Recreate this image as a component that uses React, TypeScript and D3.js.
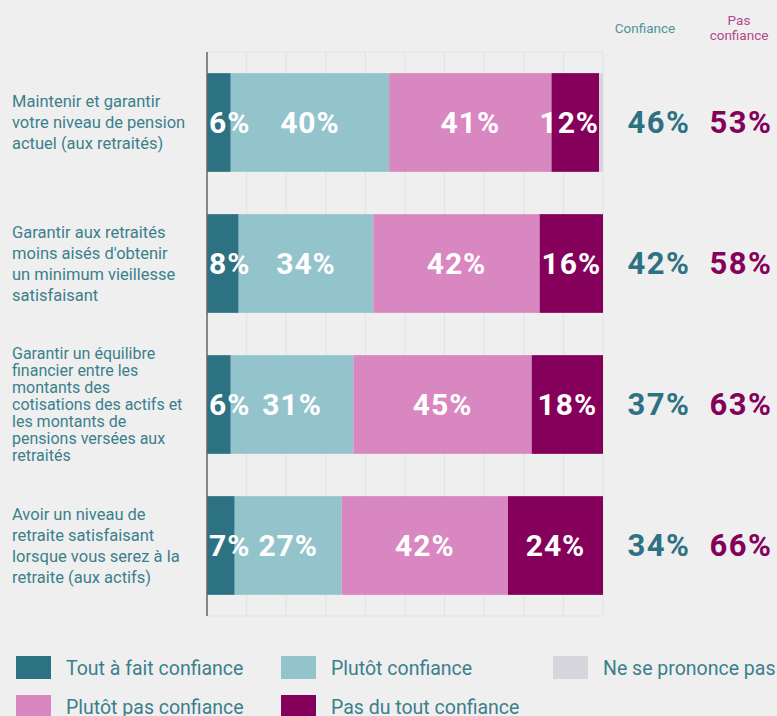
import { useEffect, useRef } from "react";
import * as d3 from "d3";

const categories = [
  ["Maintenir et garantir", "votre niveau de pension", "actuel (aux retraités)"],
  ["Garantir aux retraités", "moins aisés d'obtenir", "un minimum vieillesse", "satisfaisant"],
  [
    "Garantir un équilibre",
    "financier entre les",
    "montants des",
    "cotisations des actifs et",
    "les montants de",
    "pensions versées aux",
    "retraités",
  ],
  ["Avoir un niveau de", "retraite satisfaisant", "lorsque vous serez à la", "retraite (aux actifs)"],
];

const toutAFait = [6, 8, 6, 7];
const plutot = [40, 34, 31, 27];
const plutotPas = [41, 42, 45, 42];
const pasDuTout = [12, 16, 18, 24];
const nspp = [1, 0, 0, 0];

const seriesNames = [
  "Tout à fait confiance",
  "Plutôt confiance",
  "Plutôt pas confiance",
  "Pas du tout confiance",
  "Ne se prononce pas",
];
const seriesColors = ["#2d7282", "#94c4cb", "#d987c0", "#85005a", "#d7d5dc"];
const xTicks = [0, 10, 20, 30, 40, 50, 60, 70, 80, 90, 100];

const W = 777;
const H = 716;
const FONT = "Roboto, 'Noto Sans', sans-serif";

export default function App() {
  const svgRef = useRef<SVGSVGElement>(null);

  useEffect(() => {
    document.body.style.margin = "0";
    if (!svgRef.current) return;
    const svg = d3.select(svgRef.current);
    svg.selectAll("*").remove();

    svg.append("rect").attr("width", W).attr("height", H).attr("fill", "#efefef");

    const x = d3.scaleLinear().domain([0, 100]).range([207, 603]);
    const y = d3
      .scaleBand<number>()
      .domain(categories.map((_, i) => i))
      .range([52, 616])
      .paddingInner(0.3)
      .paddingOuter(0.15);

    const series = [toutAFait, plutot, plutotPas, pasDuTout, nspp];

    // grid
    const grid = svg.append("g");
    grid
      .selectAll("line.v")
      .data(xTicks)
      .enter()
      .append("line")
      .attr("x1", (d) => x(d))
      .attr("x2", (d) => x(d))
      .attr("y1", 52)
      .attr("y2", 616)
      .attr("stroke", "#dce4e4")
      .attr("stroke-width", 1);
    [52, 616].forEach((yy) =>
      grid
        .append("line")
        .attr("x1", x(0))
        .attr("x2", x(100))
        .attr("y1", yy)
        .attr("y2", yy)
        .attr("stroke", "#dce4e4")
    );

    // bars
    categories.forEach((lines, i) => {
      const y0 = y(i) || 0;
      const bw = y.bandwidth();
      let cum = 0;
      const segs = series.map((s, k) => {
        const seg = { k, v: s[i], a: cum, b: cum + s[i] };
        cum += s[i];
        return seg;
      });
      segs.forEach((s) => {
        if (s.v <= 0) return;
        svg
          .append("rect")
          .attr("x", x(s.a))
          .attr("y", y0)
          .attr("width", x(s.b) - x(s.a))
          .attr("height", bw)
          .attr("fill", seriesColors[s.k]);
      });

      const labelledEnd = segs[3].b;
      segs.slice(0, 4).forEach((s) => {
        const t = svg
          .append("text")
          .attr("y", y0 + bw / 2)
          .attr("dominant-baseline", "central")
          .attr("text-anchor", "middle")
          .attr("fill", "#ffffff")
          .style("font-family", FONT)
          .style("font-weight", "700")
          .style("font-size", "30px")
          .style("letter-spacing", "1px")
          .text(`${s.v}%`);
        const w = (t.node() as SVGTextElement).getComputedTextLength();
        let cx = x((s.a + s.b) / 2);
        cx = Math.max(cx, x(0) + 2 + w / 2);
        cx = Math.min(cx, x(labelledEnd) - w / 2);
        t.attr("x", cx);
      });

      // totals
      const conf = toutAFait[i] + plutot[i];
      const pas = plutotPas[i] + pasDuTout[i];
      [
        { v: conf, cx: 659, c: seriesColors[0] },
        { v: pas, cx: 741, c: seriesColors[3] },
      ].forEach((d) =>
        svg
          .append("text")
          .attr("x", d.cx)
          .attr("y", y0 + bw / 2)
          .attr("dominant-baseline", "central")
          .attr("text-anchor", "middle")
          .attr("fill", d.c)
          .style("font-family", FONT)
          .style("font-weight", "700")
          .style("font-size", "31px")
          .style("letter-spacing", "1.5px")
          .text(`${d.v}%`)
      );

      // category label
      const lh = lines.length > 5 ? 17 : 21;
      const fs = lines.length > 5 ? 16 : 16.5;
      const top = y0 + bw / 2 - ((lines.length - 1) * lh) / 2;
      const lab = svg
        .append("text")
        .attr("fill", "#3b7f8c")
        .style("font-family", FONT)
        .style("font-size", `${fs}px`);
      lines.forEach((ln, j) => {
        lab
          .append("tspan")
          .attr("x", 12)
          .attr("y", top + j * lh)
          .attr("dominant-baseline", "central")
          .text(ln);
      });
    });

    // axis line
    svg
      .append("line")
      .attr("x1", x(0))
      .attr("x2", x(0))
      .attr("y1", 52)
      .attr("y2", 616)
      .attr("stroke", "#666")
      .attr("stroke-width", 1.5);

    // headers
    svg
      .append("text")
      .attr("x", 645)
      .attr("y", 28)
      .attr("text-anchor", "middle")
      .attr("dominant-baseline", "central")
      .attr("fill", "#4f939d")
      .style("font-family", FONT)
      .style("font-size", "13.5px")
      .text("Confiance");
    ["Pas", "confiance"].forEach((t, j) =>
      svg
        .append("text")
        .attr("x", 739)
        .attr("y", 20 + j * 15)
        .attr("text-anchor", "middle")
        .attr("dominant-baseline", "central")
        .attr("fill", "#b04a8c")
        .style("font-family", FONT)
        .style("font-size", "13.5px")
        .text(t)
    );

    // legend
    const legendOrder = [0, 1, 4, 2, 3];
    const colX = [16, 281, 553];
    const rowY = [656, 695];
    legendOrder.forEach((k, idx) => {
      const lx = colX[idx < 3 ? idx : idx - 3];
      const ly = rowY[idx < 3 ? 0 : 1];
      svg
        .append("rect")
        .attr("x", lx)
        .attr("y", ly)
        .attr("width", 35)
        .attr("height", 23)
        .attr("fill", seriesColors[k]);
      svg
        .append("text")
        .attr("x", lx + 50)
        .attr("y", ly + 12)
        .attr("dominant-baseline", "central")
        .attr("fill", "#3b7f8c")
        .style("font-family", FONT)
        .style("font-size", "19.5px")
        .text(seriesNames[k]);
    });
  }, []);

  return <svg ref={svgRef} width={W} height={H} style={{ display: "block" }} />;
}
